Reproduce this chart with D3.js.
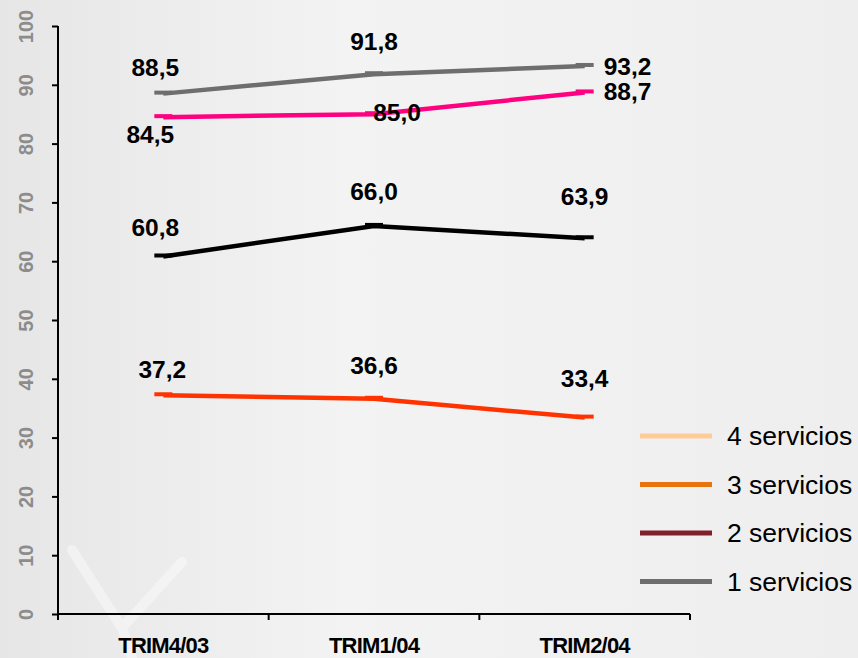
<!DOCTYPE html>
<html>
<head>
<meta charset="utf-8">
<script src="https://cdn.jsdelivr.net/npm/d3@7"></script>
<style>
  body { margin: 0; padding: 0; background: #eeeeee; }
  svg { display: block; }
</style>
</head>
<body>
<div id="my_dataviz"></div>
<script>
// categories and values
var categories = ["TRIM4/03", "TRIM1/04", "TRIM2/04"];
var yTicks = [0, 10, 20, 30, 40, 50, 60, 70, 80, 90, 100];

var serieGray   = [88.5, 91.8, 93.2];
var seriePink   = [84.5, 85.0, 88.7];
var serieBlack  = [60.8, 66.0, 63.9];
var serieOrange = [37.2, 36.6, 33.4];

var legendLabels = ["4 servicios", "3 servicios", "2 servicios", "1 servicios"];
var legendColors = ["#ffcc99", "#e8740e", "#80202c", "#6e6e6e"];

// line styling + label placement (dx, dy from point, anchor)
var series = [
  {values: serieGray,   color: "#6e6e6e",
   labels: [[-8, -18, "middle"], [0, -24, "middle"], [19, 9, "start"]]},
  {values: seriePink,   color: "#ff0080",
   labels: [[-13, 26, "middle"], [23, 7, "middle"], [19, 8, "start"]]},
  {values: serieBlack,  color: "#000000",
   labels: [[-8, -20, "middle"], [0, -26, "middle"], [0, -33, "middle"]]},
  {values: serieOrange, color: "#ff3300",
   labels: [[-1, -17, "middle"], [0, -25, "middle"], [0, -31, "middle"]]}
];

var W = 858, H = 658;
var margin = {left: 58, top: 26, right: 168, bottom: 44};
var fontFam = "'Liberation Sans', Arial, sans-serif";

var svg = d3.select("#my_dataviz")
  .append("svg")
    .attr("width", W)
    .attr("height", H);

// background gradient
var defs = svg.append("defs");
var grad = defs.append("linearGradient")
  .attr("id", "bg").attr("x1", "0").attr("y1", "0").attr("x2", "1").attr("y2", "0");
grad.append("stop").attr("offset", "0%").attr("stop-color", "#e6e6e6");
grad.append("stop").attr("offset", "40%").attr("stop-color", "#f3f3f3");
grad.append("stop").attr("offset", "100%").attr("stop-color", "#eeeeee");
svg.append("rect").attr("width", W).attr("height", H).attr("fill", "url(#bg)");

// faint white "Y" shape bottom left
svg.append("path")
  .attr("d", "M72,550 L122,628 L132,658 M182,562 L122,628")
  .attr("stroke", "#ffffff")
  .attr("stroke-width", 10)
  .attr("stroke-linecap", "round")
  .attr("fill", "none")
  .attr("opacity", 0.4);

var x = d3.scaleBand()
  .range([margin.left, 690])
  .domain(categories);

var y = d3.scaleLinear()
  .range([614, margin.top])
  .domain([0, 100]);

// y axis
var yAxis = svg.append("g")
  .attr("transform", "translate(" + margin.left + ",0)")
  .call(d3.axisLeft(y).tickValues(yTicks).tickSize(6).tickSizeOuter(0));
yAxis.select(".domain")
  .attr("d", "M0,620V" + y(100))
  .attr("stroke", "#000").attr("stroke-width", 2);
yAxis.selectAll(".tick line").attr("stroke", "#000").attr("stroke-width", 2);
yAxis.selectAll(".tick text")
  .attr("x", null).attr("dy", null)
  .attr("transform", "translate(-25,0) rotate(-90)")
  .attr("text-anchor", "middle")
  .style("font-family", fontFam)
  .style("font-weight", "bold")
  .style("font-size", "20px")
  .attr("fill", "#8c8c8c");

// x axis
var xAxis = svg.append("g")
  .attr("transform", "translate(0," + y(0) + ")")
  .call(d3.axisBottom(x).tickSize(0));
xAxis.select(".domain")
  .attr("d", "M" + margin.left + ",0H690")
  .attr("stroke", "#000").attr("stroke-width", 2);
xAxis.selectAll(".tick text")
  .attr("y", 39)
  .attr("dy", null)
  .style("font-family", fontFam)
  .style("font-weight", "bold")
  .style("font-size", "22px")
  .style("letter-spacing", "-0.8px")
  .attr("fill", "#000");
// boundary ticks between categories
xAxis.selectAll(".bound")
  .data(categories)
  .enter()
  .append("line")
    .attr("x1", function(d) { return x(d) + x.bandwidth(); })
    .attr("x2", function(d) { return x(d) + x.bandwidth(); })
    .attr("y1", 0).attr("y2", 6)
    .attr("stroke", "#000").attr("stroke-width", 2);

var cx = function(i) { return x(categories[i]) + x.bandwidth() / 2; };

var line = d3.line()
  .x(function(d, i) { return cx(i); })
  .y(function(d) { return y(d); });

series.forEach(function(s) {
  svg.append("path")
    .datum(s.values)
    .attr("d", line)
    .attr("fill", "none")
    .attr("stroke", s.color)
    .attr("stroke-width", 4.5);

  // little dash markers at each point
  svg.selectAll(null)
    .data(s.values)
    .enter()
    .append("rect")
      .attr("x", function(d, i) { return cx(i) - 9; })
      .attr("y", function(d) { return y(d) - 3; })
      .attr("width", 18)
      .attr("height", 4)
      .attr("fill", s.color);

  svg.selectAll(null)
    .data(s.values)
    .enter()
    .append("text")
      .attr("x", function(d, i) { return cx(i) + s.labels[i][0]; })
      .attr("y", function(d, i) { return y(d) + s.labels[i][1]; })
      .attr("text-anchor", function(d, i) { return s.labels[i][2]; })
      .style("font-family", fontFam)
      .style("font-weight", "bold")
      .style("font-size", "24.5px")
      .attr("fill", "#000")
      .text(function(d) { return d.toFixed(1).replace(".", ","); });
});

// legend
var legend = svg.selectAll(".legend")
  .data(legendLabels)
  .enter()
  .append("g")
    .attr("transform", function(d, i) { return "translate(640," + (436 + i * 48.5) + ")"; });
legend.append("line")
  .attr("x1", 0).attr("x2", 72)
  .attr("stroke", function(d, i) { return legendColors[i]; })
  .attr("stroke-width", 5);
legend.append("text")
  .attr("x", 87)
  .attr("y", 9)
  .style("font-family", fontFam)
  .style("font-size", "26.5px")
  .attr("fill", "#000")
  .text(function(d) { return d; });
</script>
</body>
</html>
